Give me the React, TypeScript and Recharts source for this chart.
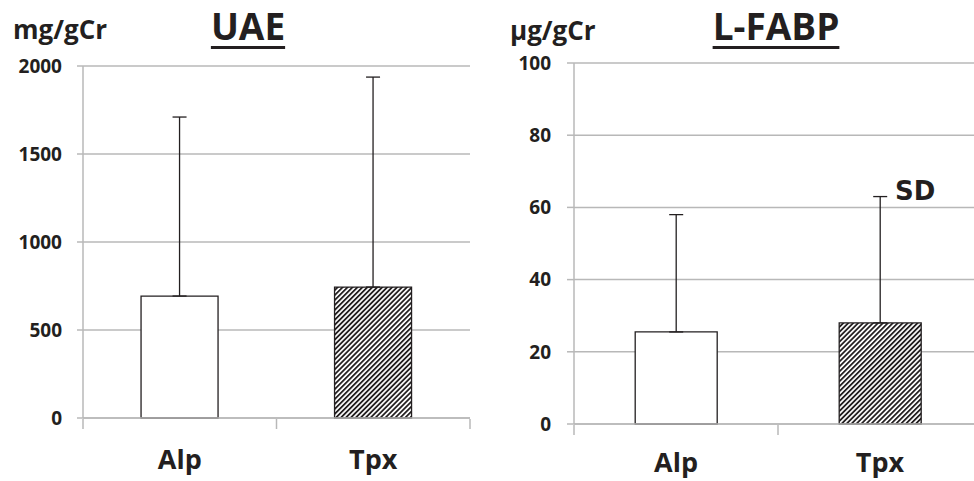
import React from "react";
import { BarChart, Bar, XAxis, YAxis, CartesianGrid, ErrorBar, Cell, ReferenceDot } from "recharts";

const categories = ["Alp", "Tpx"];
const uaeMean = [693, 744];
const uaeSd = [1017, 1193];
const uaeTicks = [0, 500, 1000, 1500, 2000];
const fabpMean = [25.5, 28];
const fabpSd = [32.5, 35];
const fabpTicks = [0, 20, 40, 60, 80, 100];
const sepTicks = [0, 1, 2];

const INK = "#231f20";
const GRID = "#b8b8b8";
const FONT = "'Open Sans', sans-serif";

const uaeData = categories.map((name, i) => ({ name, pos: i + 0.5, mean: uaeMean[i], err: [0, uaeSd[i]] }));
const fabpData = categories.map((name, i) => ({ name, pos: i + 0.5, mean: fabpMean[i], err: [0, fabpSd[i]] }));

interface PanelProps {
  data: { name: string; pos: number; mean: number; err: number[] }[];
  ticks: number[];
  width: number;
  height: number;
  margin: { top: number; right: number; bottom: number; left: number };
  yWidth: number;
  yTickSize: number;
  yTickMargin: number;
  xTickMargin: number;
  patternId: string;
  children?: React.ReactNode;
}

const noLabel = () => <g />;

function Panel({ data, ticks, width, height, margin, yWidth, yTickSize, yTickMargin, xTickMargin, patternId, children }: PanelProps) {
  const fills = ["#ffffff", `url(#${patternId})`];
  return (
    <BarChart width={width} height={height} data={data} margin={margin} barCategoryGap="30%">
      <defs>
        <pattern id={patternId} patternUnits="userSpaceOnUse" width={3.5} height={3.5} patternTransform="rotate(45)">
          <rect width={3.5} height={3.5} fill="#ffffff" />
          <line x1={0.9} y1={0} x2={0.9} y2={3.5} stroke={INK} strokeWidth={1.8} />
        </pattern>
      </defs>
      <CartesianGrid vertical={false} stroke={GRID} strokeWidth={1.5} />
      {/* category labels; separator ticks come from the numeric axis below */}
      <XAxis
        dataKey="name"
        height={1}
        tickSize={0}
        tickMargin={xTickMargin}
        axisLine={{ stroke: GRID, strokeWidth: 1.5 }}
        tick={{ fill: INK, fontSize: 27, fontWeight: 700, fontFamily: FONT }}
      />
      <XAxis
        xAxisId="sep"
        dataKey="pos"
        type="number"
        domain={[0, 2]}
        allowDataOverflow
        ticks={sepTicks}
        interval={0}
        height={1}
        tickSize={10}
        tick={noLabel}
        axisLine={false}
        tickLine={{ stroke: GRID, strokeWidth: 1.5 }}
      />
      <YAxis
        domain={[ticks[0], ticks[ticks.length - 1]]}
        ticks={ticks}
        width={yWidth}
        tickSize={yTickSize}
        tickMargin={yTickMargin}
        axisLine={{ stroke: GRID, strokeWidth: 1.5 }}
        tickLine={{ stroke: GRID, strokeWidth: 1.5 }}
        tick={{ fill: INK, fontSize: 19, fontWeight: 700, fontFamily: FONT }}
      />
      <Bar dataKey="mean" stroke={INK} strokeWidth={1.3} isAnimationActive={false}>
        {data.map((d, i) => (
          <Cell key={d.name} fill={fills[i]} />
        ))}
        <ErrorBar dataKey="err" direction="y" width={7} stroke={INK} strokeWidth={1.3} isAnimationActive={false} />
      </Bar>
      {children}
    </BarChart>
  );
}

const titleStyle: React.CSSProperties = {
  position: "absolute",
  width: 200,
  textAlign: "center",
  fontFamily: FONT,
  fontWeight: 700,
  fontSize: 37,
  lineHeight: "37px",
  color: INK,
  textDecoration: "underline",
  textDecorationThickness: "3px",
  textUnderlineOffset: "6px",
};

const unitStyle: React.CSSProperties = {
  position: "absolute",
  fontFamily: FONT,
  fontWeight: 700,
  fontSize: 26,
  lineHeight: "26px",
  color: INK,
};

export default function App() {
  return (
    <div style={{ position: "absolute", left: 0, top: 0, width: 974, height: 481, overflow: "hidden", background: "#fff" }}>
      <div style={{ position: "absolute", left: 0, top: 0 }}>
        <Panel
          data={uaeData}
          ticks={uaeTicks}
          width={487}
          height={481}
          margin={{ top: 66, right: 17, bottom: 61, left: 0 }}
          yWidth={83}
          yTickSize={6}
          yTickMargin={15}
          xTickMargin={32}
          patternId="hatchL"
        />
      </div>
      <div style={{ position: "absolute", left: 487, top: 0 }}>
        <Panel
          data={fabpData}
          ticks={fabpTicks}
          width={500}
          height={481}
          margin={{ top: 63, right: 5, bottom: 55, left: 0 }}
          yWidth={87}
          yTickSize={7}
          yTickMargin={16}
          xTickMargin={29}
          patternId="hatchR"
        >
          <ReferenceDot
            x="Tpx"
            y={fabpMean[1] + fabpSd[1]}
            r={1}
            fill="none"
            stroke="none"
            label={{
              value: "SD",
              position: "right",
              offset: 14,
              dy: -6,
              fill: INK,
              fontSize: 26,
              fontWeight: 700,
              fontFamily: "'DejaVu Sans', sans-serif",
            }}
          />
        </Panel>
      </div>
      <div style={{ ...unitStyle, left: 13, top: 16 }}>mg/gCr</div>
      <div style={{ ...titleStyle, left: 148, top: 7 }}>UAE</div>
      <div style={{ ...unitStyle, left: 510, top: 17 }}>μg/gCr</div>
      <div style={{ ...titleStyle, left: 676, top: 7 }}>L-FABP</div>
    </div>
  );
}
